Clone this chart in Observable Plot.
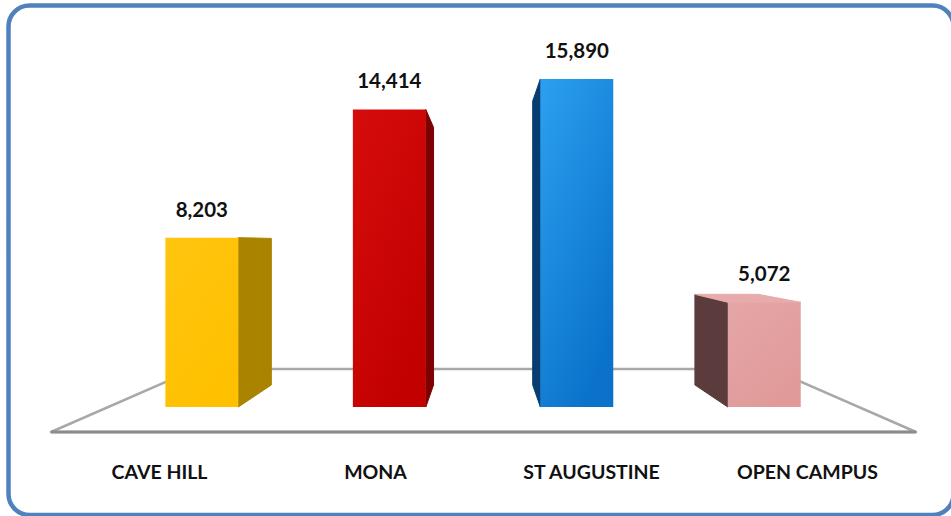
<!DOCTYPE html>
<html>
<head>
<meta charset="utf-8">
<script src="https://cdn.jsdelivr.net/npm/d3@7"></script>
<script src="https://cdn.jsdelivr.net/npm/@observablehq/plot@0.6"></script>
<style>
  html, body { margin: 0; padding: 0; background: #fff; }
  #chart { position: relative; width: 951px; height: 516px; overflow: hidden; }
</style>
</head>
<body>
<div id="chart"></div>
<script>
// ---- data ----
const campuses = ["CAVE HILL", "MONA", "ST AUGUSTINE", "OPEN CAMPUS"];
const enrolment = [8203, 14414, 15890, 5072];
const valueLabels = ["8,203", "14,414", "15,890", "5,072"];
const frontColors = ["#FFC000", "#C20000", "#0A72CA", "#E09A9A"];
const frontLight = ["#FFC50F", "#D60C0C", "#2CA0F0", "#E6A6A6"];
const sideColors = ["#AA8400", "#7E0000", "#083D72", "#5B3B3B"];
const topColors = ["#FFD24D", "#E03030", "#4FB0F0", "#E8ABAB"];

const data = campuses.map((c, i) => ({campus: c, value: enrolment[i], label: valueLabels[i], i}));

const svgNS = "http://www.w3.org/2000/svg";
function el(name, attrs) {
  const e = document.createElementNS(svgNS, name);
  for (const k in attrs) e.setAttribute(k, attrs[k]);
  return e;
}

// perspective parameters
const HORIZON = 243;
const D_FRONT = 0.132, D_BACK = 0.249, D_FLOOR = 0.333;

function makeProj(scales) {
  const r = scales.x.range();
  const vp = (r[0] + r[1]) / 2;
  return (x, y, d) => [x + (vp - x) * d, y + (HORIZON - y) * d];
}
const pts = (arr) => arr.map(p => p.join(",")).join(" ");

function bandwidthOf(scales) {
  const b = scales.x.bandwidth;
  return typeof b === "function" ? b() : b;
}

// border
function borderMark() {
  const g = el("g", {});
  g.appendChild(el("rect", {x: 8.5, y: 5.5, width: 945, height: 509.5, rx: 21, ry: 21,
    fill: "none", stroke: "#4F81BD", "stroke-width": 4.5}));
  return g;
}

// floor
function floorMark(index, scales) {
  const proj = makeProj(scales);
  const [r0, r1] = scales.x.range();
  const y0 = scales.y(0);
  const g = el("g", {});
  const fl = [proj(r0, y0, 0), proj(r1, y0, 0), proj(r1, y0, D_FLOOR), proj(r0, y0, D_FLOOR)];
  g.appendChild(el("polygon", {points: pts(fl), fill: "#fff", stroke: "#A8A8A8", "stroke-width": 2.5, "stroke-linejoin": "round"}));
  g.appendChild(el("line", {x1: fl[0][0], y1: fl[0][1], x2: fl[1][0], y2: fl[1][1], stroke: "#8C8C8C", "stroke-width": 3.2}));
  return g;
}

// bars
function barsMark(index, scales) {
  const proj = makeProj(scales);
  const [r0, r1] = scales.x.range();
  const vp = (r0 + r1) / 2;
  const bw = bandwidthOf(scales);
  const yb = scales.y(0);
  const g = el("g", {});
  const defs = el("defs", {});
  g.appendChild(defs);
  data.forEach((d, i) => {
    const gr = el("linearGradient", {id: "gf" + i, x1: 0, y1: 0, x2: 0.6, y2: 1});
    gr.appendChild(el("stop", {offset: "0%", "stop-color": frontLight[i]}));
    gr.appendChild(el("stop", {offset: "100%", "stop-color": frontColors[i]}));
    defs.appendChild(gr);
  });
  for (const d of data) {
    const x0 = scales.x(d.campus), x1 = x0 + bw, yt = scales.y(d.value);
    const cx = (x0 + x1) / 2;
    const sx = cx < vp ? x1 : x0;
    const side = [proj(sx, yt, D_FRONT), proj(sx, yt, D_BACK), proj(sx, yb, D_BACK), proj(sx, yb, D_FRONT)];
    g.appendChild(el("polygon", {points: pts(side), fill: sideColors[d.i], stroke: sideColors[d.i], "stroke-width": 1, "stroke-linejoin": "round"}));
    if (yt > HORIZON) {
      const top = [proj(x0, yt, D_FRONT), proj(x1, yt, D_FRONT), proj(x1, yt, D_BACK), proj(x0, yt, D_BACK)];
      g.appendChild(el("polygon", {points: pts(top), fill: topColors[d.i], stroke: topColors[d.i], "stroke-width": 1, "stroke-linejoin": "round"}));
    }
    const front = [proj(x0, yt, D_FRONT), proj(x1, yt, D_FRONT), proj(x1, yb, D_FRONT), proj(x0, yb, D_FRONT)];
    g.appendChild(el("polygon", {points: pts(front), fill: `url(#gf${d.i})`}));
    // value label
    const [lx, ly] = proj(cx, yt, D_FRONT);
    const t = el("text", {x: lx, y: ly - 21, "text-anchor": "middle",
      "font-family": "Lato, 'Open Sans', sans-serif", "font-weight": 700, "font-size": 20.5, fill: "#111"});
    t.textContent = d.label;
    g.appendChild(t);
  }
  return g;
}

const plot = Plot.plot({
  width: 951,
  height: 516,
  margin: 0,
  style: {background: "transparent", overflow: "visible"},
  x: {type: "band", domain: campuses, range: [51, 916], paddingInner: 0.61, paddingOuter: 0.305, align: 0.5, axis: null},
  y: {domain: [0, 15890], range: [432, 54], axis: null},
  marks: [
    Plot.dot(data, {x: "campus", y: "value", r: 0}),
    floorMark,
    barsMark,
    Plot.text(campuses, {
      x: d => d,
      frameAnchor: "bottom",
      dy: -44,
      lineAnchor: "middle",
      fontFamily: "Lato, 'Open Sans', sans-serif",
      fontWeight: 700,
      fontSize: 19.5,
      fill: "#111"
    }),
    borderMark
  ]
});
document.getElementById("chart").appendChild(plot);
</script>
</body>
</html>
